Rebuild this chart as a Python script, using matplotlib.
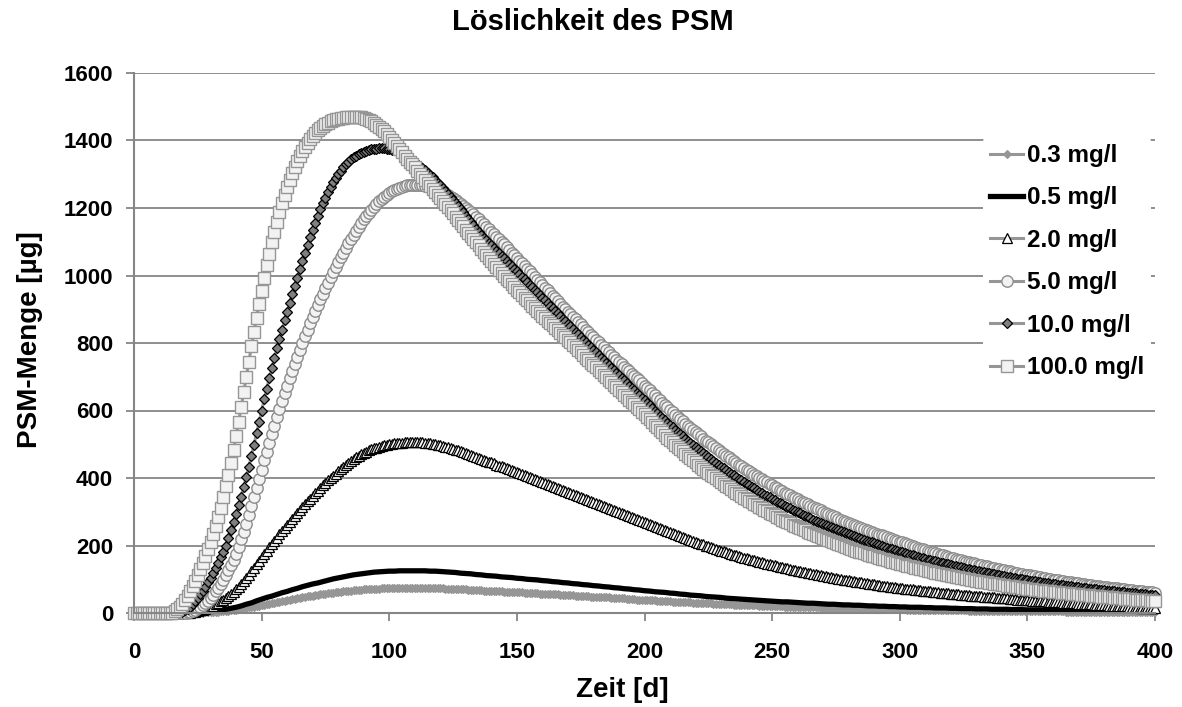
"""Löslichkeit des PSM - PSM-Menge über die Zeit für verschiedene Löslichkeiten."""

import numpy as np
import matplotlib
matplotlib.use("Agg")
import matplotlib.pyplot as plt

plt.rcParams["font.family"] = ["Liberation Sans", "DejaVu Sans"]
plt.rcParams["font.weight"] = "bold"

# Zeit [d]: Markerreihen täglich, die 0.5-mg/l-Linie alle 2 Tage
zeit = np.arange(0, 401)
zeit_linie = np.arange(0, 401, 2)

# PSM-Menge [µg] (je Zeile 20 Tage)
menge_0_3 = [
    0, 0, 0, 0, 0, 0, 0, 0, 0, 0, 0, 0, 0, 0, 0, 0, 0, 0, 0, 0,
    0, 0, 0, 0, 1, 1, 1, 1, 2, 2, 3, 3, 4, 4, 5, 6, 7, 7, 8, 9,
    10, 11, 13, 14, 15, 17, 18, 19, 21, 22, 24, 25, 27, 28, 30, 31, 33, 34, 36, 37,
    38, 40, 41, 42, 44, 45, 46, 48, 49, 50, 51, 52, 53, 55, 56, 57, 58, 59, 60, 61,
    62, 63, 64, 65, 65, 66, 67, 68, 69, 69, 70, 70, 71, 71, 72, 72, 72, 73, 73, 73,
    74, 74, 74, 74, 74, 74, 74, 74, 75, 75, 75, 75, 75, 74, 74, 74, 74, 74, 74, 74,
    73, 73, 72, 72, 72, 71, 71, 70, 70, 70, 70, 69, 69, 68, 68, 67, 67, 66, 66, 66,
    66, 65, 65, 64, 64, 63, 63, 62, 62, 61, 61, 61, 61, 60, 60, 59, 59, 58, 58, 57,
    57, 56, 56, 55, 55, 55, 55, 54, 54, 53, 53, 52, 52, 51, 51, 50, 50, 49, 49, 48,
    48, 47, 47, 47, 47, 46, 46, 45, 45, 44, 44, 43, 43, 42, 42, 41, 41, 40, 40, 40,
    40, 39, 39, 38, 38, 37, 37, 36, 36, 35, 35, 34, 34, 33, 33, 33, 33, 32, 32, 31,
    31, 30, 30, 29, 29, 29, 29, 28, 28, 27, 27, 26, 26, 26, 26, 25, 25, 24, 24, 24,
    24, 23, 23, 23, 23, 22, 22, 21, 21, 21, 21, 20, 20, 20, 20, 19, 19, 19, 19, 18,
    18, 18, 18, 17, 17, 17, 17, 17, 17, 16, 16, 16, 16, 15, 15, 15, 15, 15, 15, 14,
    14, 14, 14, 14, 14, 13, 13, 13, 13, 12, 12, 12, 12, 12, 12, 11, 11, 11, 11, 11,
    11, 11, 11, 10, 10, 10, 10, 10, 10, 10, 10, 9, 9, 9, 9, 9, 9, 9, 9, 8,
    8, 8, 8, 8, 8, 8, 8, 7, 7, 7, 7, 7, 7, 7, 7, 7, 7, 7, 7, 6,
    6, 6, 6, 6, 6, 6, 6, 6, 6, 6, 6, 5, 5, 5, 5, 5, 5, 5, 5, 5,
    5, 5, 5, 5, 5, 4, 4, 4, 4, 4, 4, 4, 4, 4, 4, 4, 4, 4, 4, 4,
    3, 3, 3, 3, 3, 3, 3, 3, 3, 3, 3, 3, 3, 3, 3, 3, 2, 2, 2, 2,
    2,
]
menge_0_5 = [
    0, 0, 0, 0, 0, 0, 0, 0, 0, 0,
    0, 0, 1, 2, 3, 5, 6, 9, 11, 14,
    17, 21, 26, 30, 36, 41, 46, 50, 55, 60,
    64, 69, 73, 78, 82, 86, 89, 93, 97, 101,
    104, 107, 110, 113, 115, 117, 119, 121, 122, 123,
    124, 124, 125, 125, 125, 125, 125, 125, 124, 124,
    123, 122, 121, 120, 118, 117, 116, 114, 113, 111,
    110, 109, 107, 106, 105, 103, 102, 100, 99, 98,
    96, 95, 93, 92, 90, 89, 87, 86, 84, 83,
    81, 80, 78, 77, 75, 74, 72, 71, 69, 68,
    66, 65, 63, 62, 61, 59, 58, 56, 55, 53,
    52, 51, 49, 48, 47, 46, 44, 43, 42, 41,
    40, 39, 38, 37, 36, 35, 34, 33, 33, 32,
    31, 30, 29, 29, 28, 27, 26, 26, 25, 24,
    24, 23, 23, 22, 21, 21, 20, 20, 19, 19,
    18, 18, 17, 17, 17, 16, 16, 15, 15, 15,
    14, 14, 13, 13, 13, 12, 12, 12, 11, 11,
    11, 11, 10, 10, 10, 9, 9, 9, 9, 8,
    8, 8, 8, 7, 7, 7, 7, 6, 6, 6,
    6, 5, 5, 5, 5, 5, 5, 4, 4, 4,
    4,
]
menge_2_0 = [
    0, 0, 0, 0, 0, 0, 0, 0, 0, 0, 0, 0, 0, 0, 0, 0, 0, 0, 0, 0,
    0, 0, 1, 2, 4, 6, 8, 10, 13, 16, 19, 22, 26, 30, 35, 40, 45, 50, 56, 63,
    70, 78, 86, 95, 104, 113, 123, 133, 144, 154, 165, 175, 185, 195, 204, 214, 223, 233, 242, 252,
    261, 270, 279, 288, 297, 306, 314, 322, 331, 339, 347, 355, 362, 370, 378, 385, 393, 400, 407, 413,
    420, 426, 433, 439, 445, 451, 456, 461, 466, 470, 475, 478, 482, 485, 488, 490, 493, 495, 497, 499,
    500, 502, 503, 504, 505, 505, 506, 506, 507, 507, 507, 507, 506, 506, 505, 504, 503, 502, 500, 499,
    497, 495, 493, 491, 489, 487, 484, 482, 479, 477, 474, 472, 469, 466, 463, 460, 457, 454, 451, 448,
    446, 443, 440, 437, 435, 432, 429, 426, 424, 421, 418, 415, 412, 409, 406, 403, 400, 398, 395, 392,
    389, 386, 383, 380, 377, 374, 371, 368, 365, 362, 359, 356, 353, 350, 347, 344, 341, 338, 335, 332,
    329, 326, 323, 320, 317, 314, 311, 308, 305, 302, 299, 296, 293, 290, 287, 284, 281, 278, 275, 272,
    269, 266, 263, 260, 257, 254, 251, 248, 245, 242, 239, 236, 233, 230, 227, 225, 222, 219, 216, 214,
    211, 208, 205, 203, 200, 198, 195, 193, 190, 188, 185, 183, 180, 178, 175, 173, 171, 169, 166, 164,
    162, 160, 158, 156, 154, 152, 150, 148, 146, 144, 142, 141, 139, 137, 135, 134, 132, 130, 128, 127,
    125, 124, 122, 121, 119, 118, 116, 115, 113, 112, 110, 109, 107, 106, 104, 103, 102, 101, 99, 98,
    97, 96, 94, 93, 92, 91, 89, 88, 87, 86, 85, 84, 82, 81, 80, 79, 78, 77, 76, 75,
    74, 73, 72, 71, 70, 70, 69, 68, 67, 66, 65, 65, 64, 63, 62, 61, 60, 60, 59, 58,
    57, 57, 56, 55, 54, 54, 53, 52, 51, 51, 50, 50, 49, 48, 47, 47, 46, 46, 45, 45,
    44, 44, 43, 42, 41, 41, 40, 40, 39, 39, 38, 38, 37, 37, 36, 36, 35, 35, 34, 34,
    33, 33, 32, 32, 31, 31, 30, 30, 29, 29, 28, 28, 27, 27, 26, 26, 25, 25, 24, 24,
    23, 23, 22, 22, 22, 21, 21, 20, 20, 20, 19, 19, 19, 18, 18, 18, 17, 17, 17, 16,
    16,
]
menge_5_0 = [
    0, 0, 0, 0, 0, 0, 0, 0, 0, 0, 0, 0, 0, 0, 0, 0, 0, 0, 0, 0,
    1, 2, 4, 7, 10, 14, 18, 24, 30, 37, 45, 54, 64, 75, 86, 99, 112, 127, 142, 158,
    175, 196, 218, 241, 265, 290, 316, 343, 370, 397, 425, 452, 478, 504, 530, 555, 580, 604, 628, 651,
    674, 696, 718, 739, 760, 780, 800, 820, 839, 858, 876, 894, 912, 929, 946, 963, 979, 995, 1010, 1025,
    1040, 1054, 1068, 1082, 1095, 1108, 1120, 1132, 1144, 1155, 1166, 1176, 1186, 1195, 1204, 1212, 1220, 1227, 1233, 1239,
    1244, 1249, 1253, 1257, 1260, 1263, 1265, 1267, 1268, 1269, 1269, 1269, 1268, 1267, 1266, 1264, 1262, 1260, 1257, 1254,
    1251, 1247, 1243, 1239, 1234, 1229, 1224, 1219, 1213, 1207, 1201, 1195, 1188, 1181, 1174, 1167, 1160, 1153, 1145, 1138,
    1130, 1123, 1115, 1108, 1100, 1092, 1084, 1076, 1068, 1060, 1052, 1044, 1036, 1028, 1020, 1012, 1004, 996, 988, 980,
    972, 964, 956, 948, 940, 932, 924, 916, 908, 900, 892, 885, 877, 870, 862, 855, 847, 840, 832, 825,
    817, 810, 802, 795, 787, 780, 772, 765, 758, 751, 744, 737, 730, 723, 716, 709, 702, 695, 689, 681,
    674, 667, 660, 653, 645, 638, 630, 623, 616, 609, 602, 595, 588, 581, 574, 568, 561, 555, 548, 542,
    536, 530, 523, 517, 511, 506, 500, 494, 488, 483, 477, 472, 466, 461, 455, 450, 445, 440, 435, 430,
    425, 420, 415, 410, 405, 401, 396, 392, 387, 383, 378, 374, 369, 365, 361, 357, 353, 349, 345, 341,
    337, 333, 329, 326, 322, 318, 314, 311, 307, 304, 300, 297, 293, 290, 286, 283, 280, 277, 273, 270,
    267, 264, 261, 258, 255, 252, 249, 246, 243, 241, 238, 235, 232, 230, 227, 225, 222, 219, 216, 214,
    211, 209, 206, 204, 201, 199, 196, 194, 191, 189, 186, 184, 182, 180, 177, 175, 173, 171, 169, 167,
    164, 162, 160, 158, 156, 154, 152, 151, 149, 147, 145, 143, 141, 140, 138, 136, 134, 133, 131, 130,
    128, 127, 125, 123, 121, 120, 118, 117, 115, 114, 113, 112, 110, 109, 107, 106, 104, 103, 102, 101,
    99, 98, 97, 96, 94, 93, 92, 91, 90, 89, 88, 87, 85, 84, 83, 82, 81, 80, 79, 78,
    77, 76, 75, 74, 73, 73, 72, 71, 70, 69, 68, 67, 66, 66, 65, 64, 63, 63, 62, 61,
    60,
]
menge_10_0 = [
    0, 0, 0, 0, 0, 0, 0, 0, 0, 0, 0, 0, 0, 0, 0, 0, 0, 0, 2, 4,
    8, 12, 18, 26, 35, 45, 55, 66, 78, 91, 104, 118, 133, 149, 165, 182, 200, 222, 245, 269,
    293, 319, 345, 373, 402, 433, 465, 498, 532, 566, 600, 633, 665, 696, 726, 755, 784, 812, 840, 867,
    893, 919, 944, 969, 993, 1018, 1042, 1066, 1090, 1113, 1135, 1156, 1177, 1196, 1214, 1231, 1247, 1262, 1276, 1288,
    1300, 1310, 1320, 1329, 1337, 1344, 1350, 1355, 1360, 1364, 1367, 1370, 1372, 1374, 1375, 1376, 1377, 1377, 1377, 1376,
    1375, 1373, 1371, 1368, 1365, 1361, 1357, 1353, 1348, 1343, 1337, 1331, 1325, 1319, 1312, 1305, 1298, 1291, 1283, 1275,
    1267, 1259, 1250, 1242, 1233, 1224, 1215, 1206, 1196, 1187, 1177, 1168, 1158, 1149, 1139, 1130, 1120, 1112, 1105, 1097,
    1090, 1082, 1074, 1066, 1058, 1051, 1043, 1035, 1027, 1020, 1012, 1004, 996, 989, 981, 973, 965, 958, 950, 942,
    934, 927, 919, 911, 903, 896, 888, 880, 872, 865, 857, 849, 841, 834, 826, 818, 810, 803, 795, 788,
    780, 772, 764, 757, 749, 742, 734, 727, 719, 712, 704, 697, 689, 682, 674, 667, 660, 653, 645, 638,
    631, 623, 615, 608, 600, 593, 585, 578, 571, 564, 557, 550, 543, 537, 530, 524, 517, 511, 504, 498,
    492, 486, 479, 474, 468, 462, 456, 451, 445, 440, 434, 429, 423, 418, 413, 408, 403, 398, 393, 388,
    383, 379, 374, 369, 364, 360, 355, 351, 347, 343, 338, 334, 330, 326, 322, 318, 314, 310, 306, 303,
    299, 295, 291, 288, 284, 281, 277, 274, 270, 267, 264, 261, 257, 254, 251, 248, 245, 242, 239, 236,
    233, 230, 227, 225, 222, 219, 216, 214, 211, 209, 206, 204, 201, 199, 196, 194, 191, 189, 186, 184,
    182, 180, 177, 175, 173, 171, 169, 167, 164, 162, 160, 158, 156, 155, 153, 151, 149, 147, 145, 144,
    142, 140, 138, 137, 135, 133, 131, 130, 128, 127, 125, 124, 122, 121, 119, 118, 116, 115, 113, 112,
    110, 109, 108, 107, 105, 104, 102, 101, 100, 99, 97, 96, 95, 94, 93, 92, 90, 89, 88, 87,
    86, 85, 84, 83, 82, 81, 80, 79, 78, 77, 76, 75, 74, 73, 72, 71, 70, 70, 69, 68,
    67, 66, 65, 65, 64, 63, 62, 62, 61, 60, 59, 59, 58, 57, 56, 56, 55, 54, 53, 53,
    52,
]
menge_100_0 = [
    0, 0, 0, 0, 0, 0, 0, 0, 0, 0, 0, 0, 0, 0, 0, 1, 5, 11, 18, 27,
    38, 50, 64, 79, 95, 112, 130, 149, 168, 189, 210, 233, 258, 284, 312, 343, 375, 409, 445, 484,
    525, 567, 610, 655, 700, 745, 790, 833, 875, 916, 955, 993, 1030, 1065, 1098, 1130, 1160, 1188, 1215, 1239,
    1262, 1283, 1303, 1321, 1338, 1354, 1368, 1381, 1393, 1403, 1413, 1422, 1430, 1437, 1443, 1448, 1453, 1457, 1460, 1463,
    1465, 1467, 1468, 1469, 1470, 1471, 1471, 1471, 1471, 1470, 1468, 1465, 1462, 1458, 1453, 1447, 1441, 1434, 1427, 1419,
    1411, 1402, 1393, 1384, 1374, 1365, 1355, 1346, 1337, 1329, 1320, 1311, 1302, 1293, 1284, 1275, 1266, 1257, 1248, 1239,
    1230, 1221, 1212, 1203, 1193, 1184, 1174, 1165, 1155, 1146, 1136, 1127, 1117, 1108, 1098, 1089, 1079, 1070, 1061, 1052,
    1043, 1034, 1025, 1017, 1008, 1000, 991, 983, 974, 966, 958, 950, 942, 934, 926, 919, 911, 904, 896, 889,
    881, 874, 866, 859, 852, 845, 838, 831, 824, 817, 809, 802, 794, 787, 779, 772, 764, 757, 749, 742,
    735, 728, 720, 713, 705, 698, 690, 683, 676, 669, 661, 654, 647, 640, 632, 625, 618, 611, 604, 597,
    590, 582, 574, 566, 558, 550, 542, 535, 527, 520, 513, 506, 499, 492, 485, 479, 472, 466, 459, 453,
    446, 440, 434, 428, 422, 416, 410, 405, 399, 394, 388, 383, 377, 372, 367, 362, 357, 352, 347, 342,
    337, 333, 328, 324, 319, 315, 310, 306, 301, 297, 293, 289, 285, 281, 277, 273, 269, 266, 262, 259,
    255, 252, 248, 245, 241, 238, 234, 231, 228, 225, 222, 219, 216, 213, 210, 207, 204, 201, 198, 196,
    193, 190, 187, 185, 182, 180, 177, 175, 172, 170, 168, 166, 163, 161, 159, 157, 154, 152, 150, 148,
    146, 144, 142, 140, 138, 136, 134, 132, 130, 129, 127, 125, 123, 122, 120, 119, 117, 115, 113, 112,
    110, 109, 107, 106, 104, 103, 101, 100, 99, 98, 96, 95, 93, 92, 91, 90, 88, 87, 86, 85,
    83, 82, 81, 80, 79, 78, 77, 76, 74, 73, 72, 71, 70, 69, 68, 67, 66, 66, 65, 64,
    63, 62, 61, 60, 59, 59, 58, 57, 56, 56, 55, 54, 53, 53, 52, 51, 50, 50, 49, 48,
    47, 47, 46, 46, 45, 45, 44, 43, 42, 42, 41, 41, 40, 40, 39, 39, 38, 38, 37, 37,
    36,
]

GRID = "#868686"
LINE = "#969696"

fig = plt.figure(figsize=(11.82, 7.07), dpi=100)
ax = fig.add_axes([134 / 1182, 1 - 613 / 707, 1021 / 1182, 540 / 707])

ax.plot(zeit, menge_0_3, color=LINE, lw=2.2, marker="D", ms=4.5, mfc=LINE, mec=LINE,
        mew=0.8, clip_on=False, label="0.3 mg/l")
ax.plot(zeit_linie, menge_0_5, color="black", lw=3.8, clip_on=False, label="0.5 mg/l")
ax.plot(zeit, menge_2_0, color=LINE, lw=2.2, marker="^", ms=7, mfc="white", mec="black",
        mew=0.9, clip_on=False, label="2.0 mg/l")
ax.plot(zeit, menge_5_0, color=LINE, lw=2.2, marker="o", ms=8.2, mfc="#f2f2f2", mec="#8c8c8c",
        mew=1.0, clip_on=False, label="5.0 mg/l")
ax.plot(zeit, menge_10_0, color=LINE, lw=2.2, marker="D", ms=5.6, mfc="#7f7f7f", mec="black",
        mew=0.9, clip_on=False, label="10.0 mg/l")
ax.plot(zeit, menge_100_0, color=LINE, lw=2.2, marker="s", ms=8.2, mfc="#f2f2f2", mec="#969696",
        mew=1.0, clip_on=False, label="100.0 mg/l")

ax.set_xlim(0, 400)
ax.set_ylim(0, 1600)
ax.set_xticks(np.arange(0, 401, 50))
ax.set_yticks(np.arange(0, 1601, 200))
ax.yaxis.grid(True, color=GRID, lw=1.3)
ax.set_axisbelow(True)
for side in ("top", "right"):
    ax.spines[side].set_visible(False)
for side in ("left", "bottom"):
    ax.spines[side].set_color(GRID)
    ax.spines[side].set_linewidth(1.5)
ax.tick_params(axis="both", colors=GRID, labelcolor="black", labelsize=16,
               length=6, width=1.3)
ax.tick_params(axis="x", pad=15)
ax.tick_params(axis="y", pad=9)

leg = ax.legend(loc="upper left", bbox_to_anchor=(0.8315, 0.882), fontsize=17.5,
                handlelength=1.35, handletextpad=0.15, labelspacing=0.8,
                borderpad=0.3, borderaxespad=0, frameon=True, framealpha=1,
                numpoints=1)
leg.get_frame().set_facecolor("white")
leg.get_frame().set_edgecolor("none")

fig.text(593 / 1182, 1 - 22 / 707, "Löslichkeit des PSM", ha="center", va="center",
         fontsize=21, fontweight="bold")
fig.text(622 / 1182, 1 - 690 / 707, "Zeit [d]", ha="center", va="center",
         fontsize=20, fontweight="bold")
fig.text(30 / 1182, 1 - 340 / 707, "PSM-Menge [µg]", ha="center", va="center",
         rotation=90, fontsize=20, fontweight="bold")

fig.savefig("out.png", dpi=100)
